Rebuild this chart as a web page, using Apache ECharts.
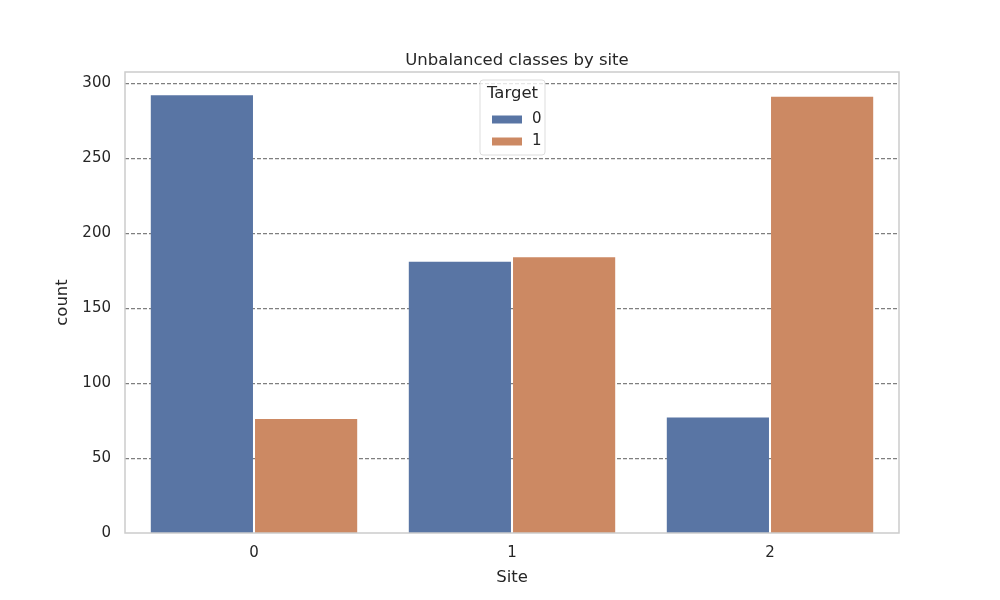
<!DOCTYPE html>
<html style="height: 100%">
<head>
    <meta charset="utf-8">
</head>
<body style="height: 100%; margin: 0">
<div id="container" style="width: 1000px; height: 600px"></div>
<script type="text/javascript" src="https://cdn.jsdelivr.net/npm/echarts@6/dist/echarts.min.js"></script>
<script type="text/javascript">
var sites = ['0', '1', '2'];
var target0 = [292, 181, 77];
var target1 = [76, 184, 291];
var yTicks = [0, 50, 100, 150, 200, 250, 300];

var font = 'DejaVu Sans';
var textColor = '#262626';

var chart = echarts.init(document.getElementById('container'));

var option = {
    backgroundColor: '#ffffff',
    animation: false,
    title: {
        text: 'Unbalanced classes by site',
        left: 512,
        top: 47,
        textAlign: 'center',
        textStyle: { fontFamily: font, fontSize: 16.5, fontWeight: 'normal', color: textColor }
    },
    grid: { left: 125, right: 101, top: 72, bottom: 67, containLabel: false },
    legend: {
        data: ['0', '1'],
        orient: 'vertical',
        z: 300,
        zlevel: 1,
        left: 487,
        top: 107,
        itemWidth: 30,
        itemHeight: 8,
        itemGap: 7,
        icon: 'rect',
        textStyle: { fontFamily: font, fontSize: 15, color: textColor, lineHeight: 14, padding: [0, 0, 0, 5] }
    },
    xAxis: {
        type: 'category',
        data: sites,
        name: 'Site',
        nameLocation: 'middle',
        nameGap: 36,
        nameTextStyle: { fontFamily: font, fontSize: 16.5, color: textColor },
        axisLine: { show: false },
        axisTick: { show: false },
        axisLabel: { fontFamily: font, fontSize: 15, color: textColor, margin: 13 }
    },
    yAxis: {
        type: 'value',
        min: 0,
        max: 307.5,
        interval: 50,
        name: 'count',
        nameLocation: 'middle',
        nameGap: 46,
        nameTextStyle: { fontFamily: font, fontSize: 16.5, color: textColor },
        axisLine: { show: false },
        axisTick: { show: false },
        axisLabel: {
            fontFamily: font, fontSize: 15, color: textColor, margin: 14,
            formatter: function (v) { return yTicks.indexOf(v) >= 0 ? String(v) : ''; }
        },
        splitLine: {
            show: true,
            showMaxLine: false,
            showMinLine: false,
            lineStyle: { color: '#7f7f7f', width: 1.25, type: [4, 2] }
        }
    },
    graphic: [
        {
            type: 'rect',
            z: 100,
            shape: { x: 125, y: 72, width: 774, height: 461 },
            style: { fill: 'none', stroke: '#cccccc', lineWidth: 1.5 }
        },
        {
            type: 'rect',
            z: 99,
            shape: { x: 480, y: 80, width: 65, height: 75, r: 3 },
            style: { fill: 'rgba(255,255,255,0.8)', stroke: '#dddddd', lineWidth: 1 }
        },
        {
            type: 'text',
            z: 101,
            left: 487,
            top: 85,
            style: { text: 'Target', font: '16.5px "DejaVu Sans"', fill: textColor }
        }
    ],
    series: [
        {
            name: '0',
            type: 'bar',
            data: target0,
            barCategoryGap: '20%',
            barGap: '2%',
            itemStyle: { color: '#5975a4' }
        },
        {
            name: '1',
            type: 'bar',
            data: target1,
            barCategoryGap: '20%',
            barGap: '2%',
            itemStyle: { color: '#cc8963' }
        }
    ]
};

chart.setOption(option);
</script>
</body>
</html>
